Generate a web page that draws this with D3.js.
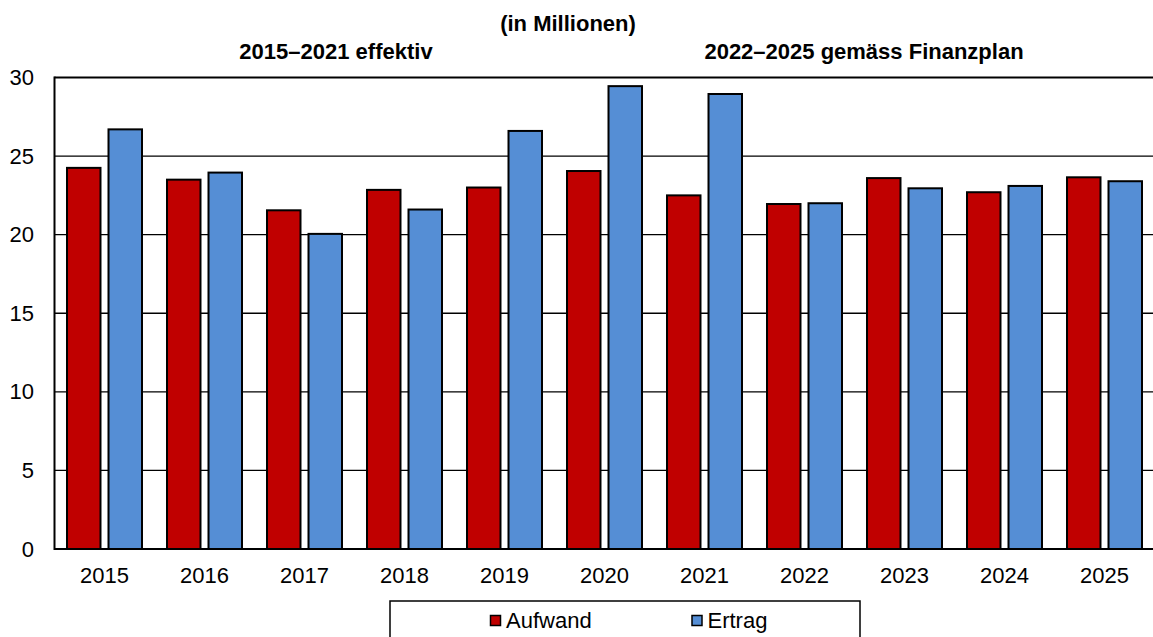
<!DOCTYPE html>
<html>
<head>
<meta charset="utf-8">
<script src="https://cdn.jsdelivr.net/npm/d3@7"></script>
<style>
  html, body { margin: 0; padding: 0; background: #fff; }
  svg { display: block; font-family: "Liberation Sans", Arial, sans-serif; }
</style>
</head>
<body>
<svg id="chart" width="1153" height="637"></svg>
<script>
const years = ["2015","2016","2017","2018","2019","2020","2021","2022","2023","2024","2025"];
const aufwand = [24.25, 23.5, 21.55, 22.85, 23.0, 24.05, 22.5, 21.95, 23.6, 22.7, 23.65];
const ertrag  = [26.7, 23.95, 20.05, 21.6, 26.6, 29.45, 28.95, 22.0, 22.95, 23.1, 23.4];
const seriesNames = ["Aufwand", "Ertrag"];
const seriesColors = ["#C00000", "#558ED5"];
const yTicks = [0, 5, 10, 15, 20, 25, 30];
const titleMain = "(in Millionen)";
const titleLeft = "2015–2021 effektiv";
const titleRight = "2022–2025 gemäss Finanzplan";

(function () {
const svg = d3.select("#chart");
const pLeft = 54.5, pRight = 1154.5, pTop = 77.5, pBottom = 549;
const fs = 22;

const x = d3.scaleBand().domain(years).range([pLeft, pRight]).padding(0);
const xs = d3.scaleBand().domain(seriesNames).range([12.5, 87.5]).paddingInner(0.193).paddingOuter(0);
const y = d3.scaleLinear().domain([0, 30]).range([pBottom, pTop]);

// gridlines
svg.append("g").selectAll("line").data(yTicks.filter(t => t > 0 && t < 30)).join("line")
  .attr("x1", pLeft).attr("x2", pRight)
  .attr("y1", d => y(d)).attr("y2", d => y(d))
  .attr("stroke", "#000").attr("stroke-width", 1.3);
// top line
svg.append("line").attr("x1", pLeft).attr("x2", pRight).attr("y1", y(30)).attr("y2", y(30))
  .attr("stroke", "#000").attr("stroke-width", 2);

// bars
const data = years.map((yr, i) => ({ year: yr, values: [aufwand[i], ertrag[i]] }));
const g = svg.append("g").selectAll("g").data(data).join("g")
  .attr("transform", d => `translate(${x(d.year)},0)`);
g.selectAll("rect").data(d => d.values.map((v, j) => ({ name: seriesNames[j], v, j }))).join("rect")
  .attr("x", d => xs(d.name))
  .attr("width", xs.bandwidth())
  .attr("y", d => y(d.v))
  .attr("height", d => y(0) - y(d.v))
  .attr("fill", d => seriesColors[d.j])
  .attr("stroke", "#000").attr("stroke-width", 2);

// axes lines
svg.append("line").attr("x1", pLeft).attr("x2", pRight).attr("y1", y(0)).attr("y2", y(0))
  .attr("stroke", "#000").attr("stroke-width", 2);
svg.append("line").attr("x1", pLeft).attr("x2", pLeft).attr("y1", y(30) - 1).attr("y2", y(0) + 1)
  .attr("stroke", "#000").attr("stroke-width", 2);

// y labels
const yAxis = d3.axisLeft(y).tickValues(yTicks).tickSize(0).tickPadding(0);
const ya = svg.append("g").attr("transform", `translate(34,0)`).call(yAxis);
ya.select(".domain").remove();
ya.selectAll("text").attr("font-size", fs).attr("fill", "#000")
  .attr("font-family", "Liberation Sans, Arial, sans-serif");

// x labels
const xAxis = d3.axisBottom(x).tickSize(0).tickPadding(0);
const xa = svg.append("g").call(xAxis);
xa.select(".domain").remove();
xa.selectAll("text").attr("font-size", fs).attr("fill", "#000")
  .attr("dy", null).attr("y", 583)
  .attr("font-family", "Liberation Sans, Arial, sans-serif");

// titles
svg.append("text").attr("x", 568).attr("y", 31).attr("text-anchor", "middle")
  .attr("font-size", fs).attr("font-weight", "bold").text(titleMain);
svg.append("text").attr("x", 336).attr("y", 58.5).attr("text-anchor", "middle")
  .attr("font-size", fs).attr("font-weight", "bold").text(titleLeft);
svg.append("text").attr("x", 864).attr("y", 58.5).attr("text-anchor", "middle")
  .attr("font-size", fs).attr("font-weight", "bold").text(titleRight);

// legend
svg.append("rect").attr("x", 390).attr("y", 601).attr("width", 470).attr("height", 60)
  .attr("fill", "#fff").attr("stroke", "#000").attr("stroke-width", 1.5);
const legX = [490, 691.5];
seriesNames.forEach((n, i) => {
  svg.append("rect").attr("x", legX[i] + 0.5).attr("y", 615.5).attr("width", 10).attr("height", 10)
    .attr("fill", seriesColors[i]).attr("stroke", "#000").attr("stroke-width", 1.5);
  svg.append("text").attr("x", legX[i] + 16).attr("y", 628).attr("font-size", fs).text(n);
});
})();
</script>
</body>
</html>
